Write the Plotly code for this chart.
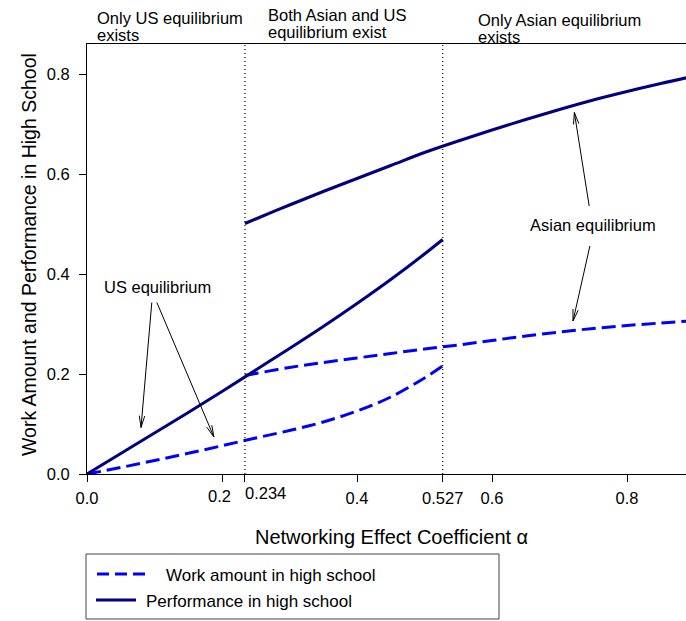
import math
import plotly.graph_objects as go

# Critical values of the networking coefficient
ALPHA_LOW = 0.234
ALPHA_HIGH = 0.527

# US equilibrium (exists for alpha <= 0.527)
us_alpha = [0.0, 0.05, 0.1, 0.15, 0.2, 0.25, 0.3, 0.35, 0.4, 0.45, 0.5, 0.527]
us_perf = [0.0, 0.041, 0.082, 0.123, 0.165, 0.208, 0.251, 0.295, 0.341, 0.389, 0.440, 0.469]
us_work = [0.0, 0.013, 0.027, 0.0415, 0.0565, 0.072, 0.087, 0.104, 0.126, 0.154, 0.192, 0.216]

# Asian equilibrium (exists for alpha >= 0.234)
asia_alpha = [0.234, 0.25, 0.3, 0.35, 0.4, 0.45, 0.5, 0.55, 0.6, 0.65, 0.7, 0.75, 0.8, 0.85, 0.89]
asia_perf = [0.501, 0.510, 0.538, 0.565, 0.591, 0.617, 0.643, 0.666, 0.688, 0.709, 0.729, 0.748, 0.765, 0.781, 0.793]
asia_work = [0.197, 0.201, 0.213, 0.223, 0.232, 0.241, 0.250, 0.258, 0.267, 0.276, 0.284, 0.291, 0.297, 0.302, 0.306]

x_ticks = [0.0, 0.2, ALPHA_LOW, 0.4, ALPHA_HIGH, 0.6, 0.8]
x_tick_text = ["0.0", "0.2", "0.234", "0.4", "0.527", "0.6", "0.8"]
y_ticks = [0.0, 0.2, 0.4, 0.6, 0.8]
y_tick_text = ["0.0", "0.2", "0.4", "0.6", "0.8"]

X_RANGE = [0.0, 0.8874]
Y_RANGE = [0.0, 0.86]

W, H = 686, 621
M_L, M_R, M_T, M_B = 87, 0, 44, 147
PW, PH = W - M_L - M_R, H - M_T - M_B

NAVY = "#000080"
BLUE = "#0000FF"
FONT = "Liberation Sans, Arial, sans-serif"
DASH = "14px,6px"
TICK_SIZE = 16.5

fig = go.Figure()

for xs, ys in ((us_alpha, us_work), (asia_alpha, asia_work)):
    fig.add_trace(go.Scatter(x=xs, y=ys, mode="lines", line=dict(color=BLUE, width=3, dash=DASH, shape="spline"),
                             name="Work amount in high school", showlegend=False))
for xs, ys in ((us_alpha, us_perf), (asia_alpha, asia_perf)):
    fig.add_trace(go.Scatter(x=xs, y=ys, mode="lines", line=dict(color=NAVY, width=3, shape="spline"),
                             name="Performance in high school", showlegend=False))

shapes = []
# dotted separators at the critical alphas
for a in (ALPHA_LOW, ALPHA_HIGH):
    shapes.append(dict(type="line", xref="x", yref="paper", x0=a, x1=a, y0=0, y1=1,
                       line=dict(color="black", width=1.2, dash="1px,3px")))

# pixel <-> data helpers for drawing open arrowheads
sx = PW / (X_RANGE[1] - X_RANGE[0])
sy = PH / (Y_RANGE[1] - Y_RANGE[0])


def arrow(tail, tip, head=12, half_angle=13):
    tx, ty = tail
    hx, hy = tip
    shapes.append(dict(type="line", xref="x", yref="y", x0=tx, y0=ty, x1=hx, y1=hy,
                       line=dict(color="black", width=1)))
    dx, dy = (tx - hx) * sx, (ty - hy) * sy
    ang = math.atan2(dy, dx)
    for s in (-1, 1):
        a = ang + s * math.radians(half_angle)
        ex = hx + head * math.cos(a) / sx
        ey = hy + head * math.sin(a) / sy
        shapes.append(dict(type="line", xref="x", yref="y", x0=hx, y0=hy, x1=ex, y1=ey,
                           line=dict(color="black", width=1)))


arrow((0.096, 0.343), (0.080, 0.093))
arrow((0.1035, 0.343), (0.188, 0.074))
arrow((0.744, 0.536), (0.722, 0.723))
arrow((0.745, 0.456), (0.720, 0.306))


def px_x(p):
    return (p - M_L) / PW


def px_y(p):
    return (H - M_B - p) / PH


# legend box
shapes.append(dict(type="rect", xref="paper", yref="paper", x0=px_x(86), x1=px_x(499), y0=px_y(619), y1=px_y(554),
                   line=dict(color="#444444", width=1), fillcolor="white"))
shapes.append(dict(type="line", xref="paper", yref="paper", x0=px_x(97), x1=px_x(147), y0=px_y(574), y1=px_y(574),
                   line=dict(color=BLUE, width=3, dash="12px,6px")))
shapes.append(dict(type="line", xref="paper", yref="paper", x0=px_x(96), x1=px_x(136), y0=px_y(600), y1=px_y(600),
                   line=dict(color=NAVY, width=3)))

annotations = []


def label(text, x, y, size=17, xanchor="left", yanchor="middle", xref="paper", yref="paper", angle=0,
          xshift=0):
    annotations.append(dict(text=text, x=x, y=y, xref=xref, yref=yref, xanchor=xanchor, yanchor=yanchor,
                            showarrow=False, textangle=angle, align="left", xshift=xshift,
                            font=dict(family=FONT, size=size, color="black")))


# crowded tick labels near 0.2 / 0.234 placed beside their ticks
shifted = {0.2: ("right", 11), ALPHA_LOW: ("left", -2)}
axis_text = []
for v, t in zip(x_ticks, x_tick_text):
    if v in shifted:
        anchor, dx = shifted[v]
        label(t, v, px_y(496 if v == 0.2 else 493), size=TICK_SIZE, xanchor=anchor, xref="x", xshift=dx)
        axis_text.append("")
    else:
        axis_text.append(t)

label("Work amount in high school", px_x(164), px_y(575))
label("Performance in high school", px_x(144), px_y(601))

# region captions above the plot
label("Only US equilibrium", px_x(95), px_y(18), size=16.5)
label("exists", px_x(95), px_y(35), size=16.5)
label("Both Asian and US", px_x(266), px_y(15), size=16.5)
label("equilibrium exist", px_x(266), px_y(32), size=16.5)
label("Only Asian equilibrium", px_x(476), px_y(20), size=16.5)
label("exists", px_x(476), px_y(37), size=16.5)

# curve labels
label("US equilibrium", 0.104, 0.374, size=16.5, xanchor="center", xref="x", yref="y")
label("Asian equilibrium", 0.749, 0.498, size=16.5, xanchor="center", xref="x", yref="y")

# axis titles
label("Networking Effect Coefficient \u03b1", px_x(391), px_y(537), size=20, xanchor="center")
label("Work Amount and Performance in High School", px_x(29), px_y(255), size=19.5, xanchor="center", angle=-90)

fig.update_layout(
    width=W, height=H,
    margin=dict(l=M_L, r=M_R, t=M_T, b=M_B, pad=0),
    paper_bgcolor="white", plot_bgcolor="white",
    showlegend=False,
    shapes=shapes, annotations=annotations,
    font=dict(family=FONT, size=17, color="black"),
    xaxis=dict(range=X_RANGE, tickvals=x_ticks, ticktext=axis_text, ticks="outside", ticklen=7,
               tickcolor="black", showline=True, linecolor="black", linewidth=1, mirror=True,
               showgrid=False, zeroline=False, tickfont=dict(size=TICK_SIZE), tickangle=0,
               ticklabelstandoff=2),
    yaxis=dict(range=Y_RANGE, tickvals=y_ticks, ticktext=y_tick_text, ticks="outside", ticklen=7,
               tickcolor="black", showline=True, linecolor="black", linewidth=1,
               showgrid=False, zeroline=False, tickfont=dict(size=TICK_SIZE), ticklabelstandoff=6),
)

fig.write_html("out.html")
